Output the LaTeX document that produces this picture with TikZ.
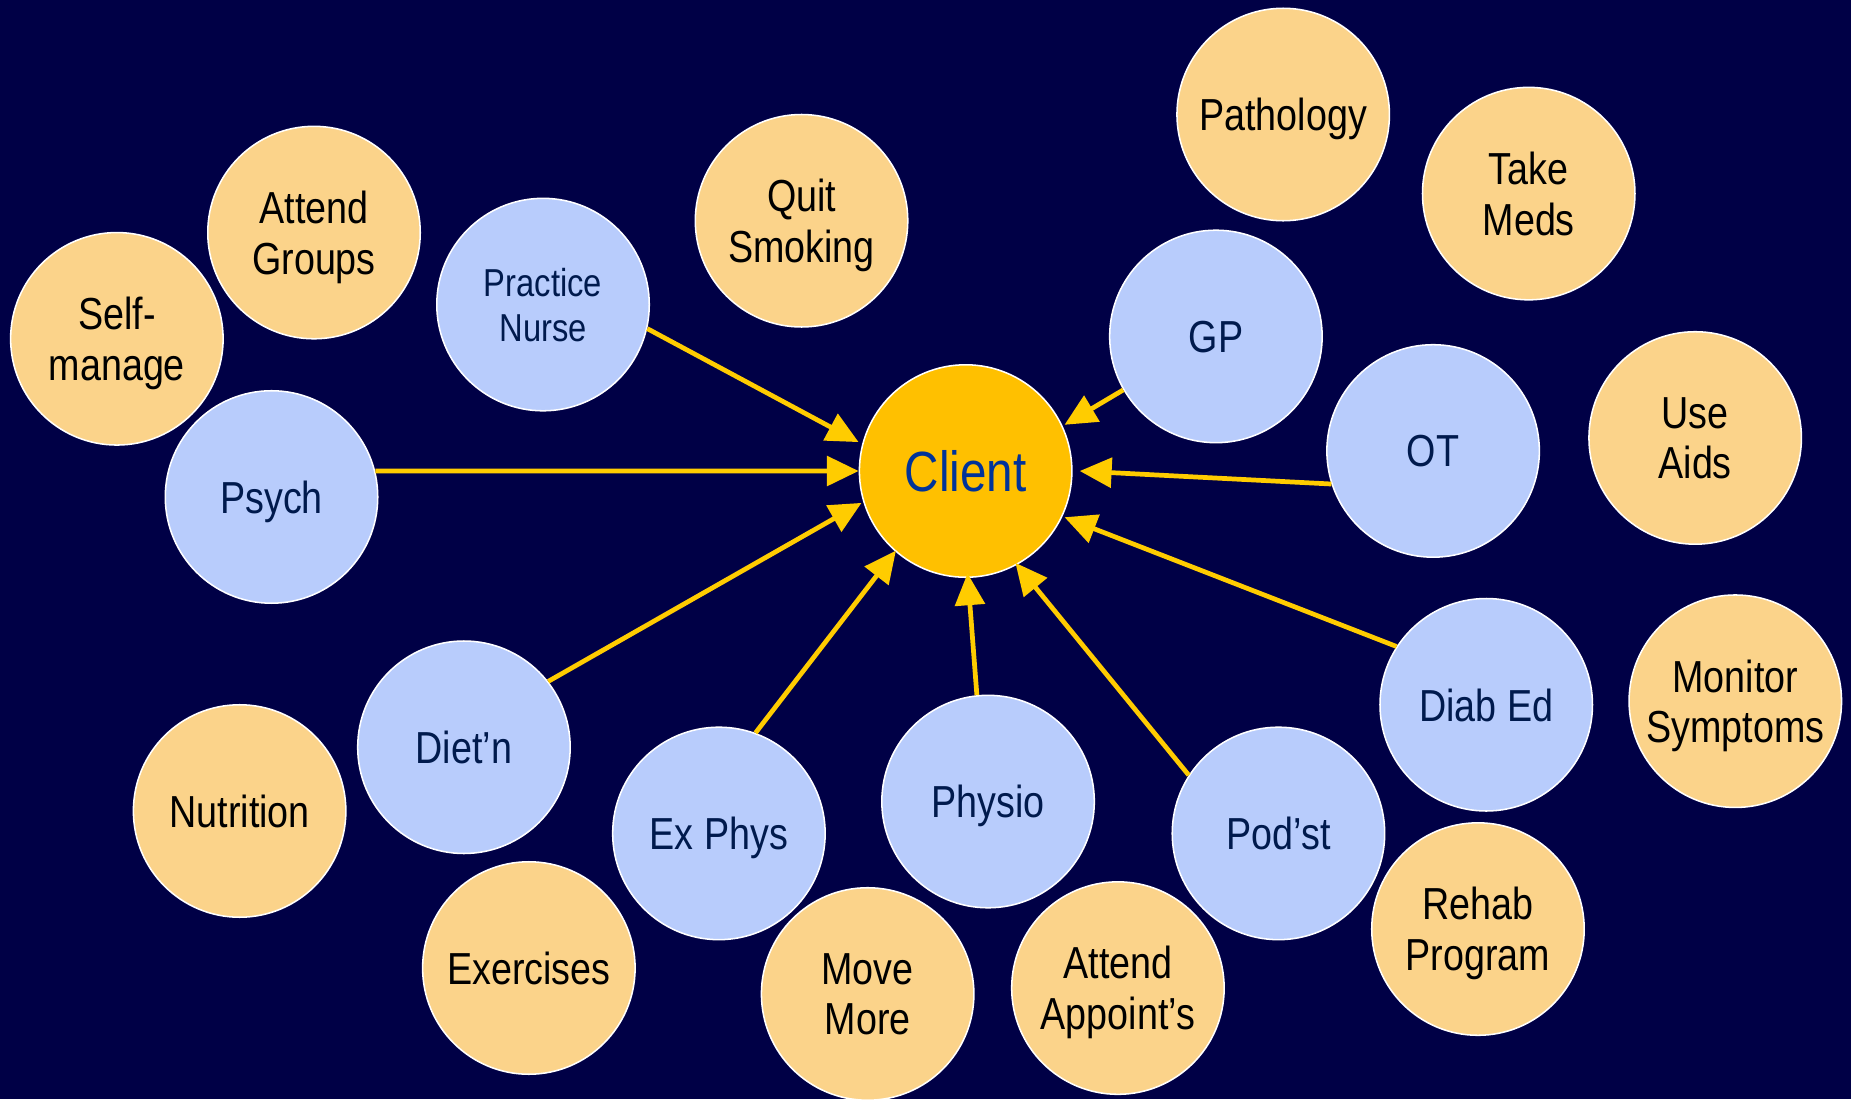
\documentclass[tikz,border=0pt]{standalone}
\usepackage{fontspec}
\setmainfont[FakeStretch=0.84]{Liberation Sans}
\usetikzlibrary{arrows.meta}
\definecolor{bgnavy}{RGB}{0,0,70}
\definecolor{peach}{RGB}{251,211,138}
\definecolor{lightblue}{RGB}{184,204,252}
\definecolor{gold}{RGB}{255,192,0}
\definecolor{clienttext}{RGB}{0,51,153}
\definecolor{bluetext}{RGB}{0,26,77}
\definecolor{arrowyellow}{RGB}{255,204,0}
\begin{document}
\begin{tikzpicture}[x=1pt,y=-1pt,
  circ/.style={circle,draw=white,line width=1.3pt,minimum size=180pt,inner sep=0pt,align=center,text depth=0pt},
  task/.style={circ,fill=peach,text=black,font=\fontsize{38}{43}\selectfont},
  prof/.style={circ,fill=lightblue,text=bluetext,font=\fontsize{38}{43}\selectfont},
  profsmall/.style={prof,font=\fontsize{33}{38}\selectfont},
  clientbox/.style={circ,fill=gold,text=clienttext,font=\fontsize{48}{52}\selectfont},
  link/.style={draw=arrowyellow,line width=4pt,-{Triangle[length=27pt,width=25pt]}}]
\fill[bgnavy] (0,0) rectangle (1568,931);
\useasboundingbox (0,0) rectangle (1568,931);
% task circles
\node[task] (pathology) at (1087,97) {Pathology};
\node[task] (takemeds) at (1295,164) {Take\\Meds};
\node[task] (quit) at (679,187) {Quit\\Smoking};
\node[task] (groups) at (266,197) {Attend\\Groups};
\node[task] (self) at (99,287) {Self-\\manage};
\node[task] (useaids) at (1436,371) {Use\\Aids};
\node[task] (nutrition) at (203,687) {Nutrition};
\node[task] (monitor) at (1470,594) {Monitor\\Symptoms};
\node[task] (rehab) at (1252,787) {Rehab\\Program};
\node[task] (exercises) at (448,820) {Exercises};
\node[task] (move) at (735,842) {Move\\More};
\node[task] (appoint) at (947,837) {Attend\\Appoint’s};
% professional circles
\node[profsmall] (nurse) at (460,258) {Practice\\Nurse};
\node[prof] (gp) at (1030,285) {GP};
\node[prof] (ot) at (1214,382) {OT};
\node[prof] (psych) at (230,421) {Psych};
\node[prof] (dietn) at (393,633) {Diet’n};
\node[prof] (exphys) at (609,706) {Ex Phys};
\node[prof] (physio) at (837,679) {Physio};
\node[prof] (podst) at (1083,706) {Pod’st};
\node[prof] (diabed) at (1259,597) {Diab Ed};
% client
\node[clientbox] (client) at (818,399) {Client};
% connectors
\draw[link] (psych.14) -- (client.180);
\draw[link] (nurse.347) -- ([shift={(-4pt,-2pt)}]client.163);
\draw[link] (gp.210) -- ([shift={(3pt,-2pt)}]client.27);
\draw[link] (ot.198) -- ([shift={(6pt,0pt)}]client.0);
\draw[link] (diabed.147) -- ([shift={(3pt,2pt)}]client.333);
\draw[link] (podst.147) -- ([shift={(1pt,3pt)}]client.297);
\draw[link] (physio.96) -- ([shift={(0pt,4pt)}]client.271);
\draw[link] (exphys.70) -- ([shift={(-2pt,3pt)}]client.231);
\draw[link] (dietn.38.5) -- ([shift={(-2pt,1pt)}]client.198);
\end{tikzpicture}
\end{document}
